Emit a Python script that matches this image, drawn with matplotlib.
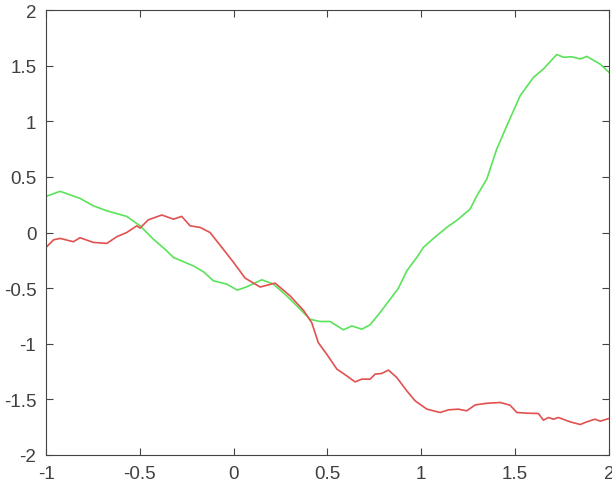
import matplotlib
matplotlib.use("Agg")
import matplotlib.pyplot as plt

# green series
green_x = [-1.0, -0.925, -0.819, -0.748, -0.676, -0.57, -0.499, -0.428, -0.366,
           -0.321, -0.215, -0.161, -0.108, -0.037, 0.02, 0.07, 0.15, 0.212,
           0.283, 0.354, 0.407, 0.46, 0.514, 0.585, 0.63, 0.683, 0.727, 0.78,
           0.834, 0.878, 0.923, 0.976, 1.011, 1.065, 1.136, 1.19, 1.26, 1.296,
           1.349, 1.402, 1.456, 1.527, 1.598, 1.651, 1.722, 1.758, 1.80, 1.847,
           1.882, 1.953, 2.0]
green_y = [0.325, 0.37, 0.307, 0.24, 0.195, 0.145, 0.06, -0.06, -0.15,
           -0.224, -0.30, -0.353, -0.434, -0.464, -0.518, -0.488, -0.425, -0.464,
           -0.57, -0.689, -0.78, -0.80, -0.80, -0.875, -0.84, -0.869, -0.83, -0.72,
           -0.60, -0.50, -0.344, -0.224, -0.134, -0.053, 0.046, 0.11, 0.21, 0.33,
           0.48, 0.75, 0.96, 1.23, 1.395, 1.47, 1.60, 1.575, 1.58, 1.56,
           1.583, 1.514, 1.44]

# red series
red_x = [-1.0, -0.96, -0.925, -0.854, -0.819, -0.748, -0.676, -0.623, -0.57,
         -0.516, -0.499, -0.455, -0.383, -0.321, -0.277, -0.232, -0.179, -0.126,
         -0.063, 0.0, 0.061, 0.141, 0.221, 0.301, 0.372, 0.416, 0.451, 0.496,
         0.55, 0.603, 0.647, 0.683, 0.727, 0.754, 0.789, 0.825, 0.869, 0.923,
         0.967, 1.03, 1.10, 1.145, 1.198, 1.242, 1.287, 1.349, 1.42, 1.473,
         1.509, 1.562, 1.624, 1.651, 1.678, 1.704, 1.731, 1.793, 1.847, 1.882,
         1.926, 1.953, 2.0]
red_y = [-0.134, -0.066, -0.053, -0.083, -0.047, -0.089, -0.098, -0.038, 0.0,
         0.06, 0.04, 0.114, 0.157, 0.12, 0.145, 0.06, 0.046, 0.0,
         -0.134, -0.27, -0.41, -0.49, -0.455, -0.57, -0.70, -0.81, -0.99, -1.094,
         -1.228, -1.289, -1.343, -1.318, -1.318, -1.273, -1.267, -1.237, -1.303, -1.424,
         -1.513, -1.588, -1.618, -1.594, -1.588, -1.603, -1.55, -1.535, -1.528, -1.552,
         -1.618, -1.624, -1.627, -1.687, -1.663, -1.678, -1.663, -1.702, -1.726, -1.702,
         -1.678, -1.696, -1.672]

x_ticks = [-1, -0.5, 0, 0.5, 1, 1.5, 2]
x_labels = ["-1", "-0.5", "0", "0.5", "1", "1.5", "2"]
y_ticks = [-2, -1.5, -1, -0.5, 0, 0.5, 1, 1.5, 2]
y_labels = ["-2", "-1.5", "-1", "-0.5", "0", "0.5", "1", "1.5", "2"]

plt.rcParams["font.family"] = ["Liberation Sans", "DejaVu Sans"]

fig = plt.figure(figsize=(6.12, 4.85), dpi=100)
ax = fig.add_axes([0.0752, 0.0598, 0.9198, 0.9175])

ax.plot(green_x, green_y, color="#5ae35a", lw=1.2)
ax.plot(red_x, red_y, color="#e25050", lw=1.2)

ax.set_xlim(-1, 2)
ax.set_ylim(-2, 2)
ax.set_xticks(x_ticks)
ax.set_xticklabels(x_labels)
ax.set_yticks(y_ticks)
ax.set_yticklabels(y_labels)

ax.tick_params(direction="in", top=True, right=True, length=5, width=0.8,
               color="#444444", labelcolor="#404040", labelsize=13.5)
ax.tick_params(axis="x", pad=7)
ax.tick_params(axis="y", pad=7)
for sp in ax.spines.values():
    sp.set_color("#444444")
    sp.set_linewidth(0.8)

fig.savefig("out.png", dpi=100)
